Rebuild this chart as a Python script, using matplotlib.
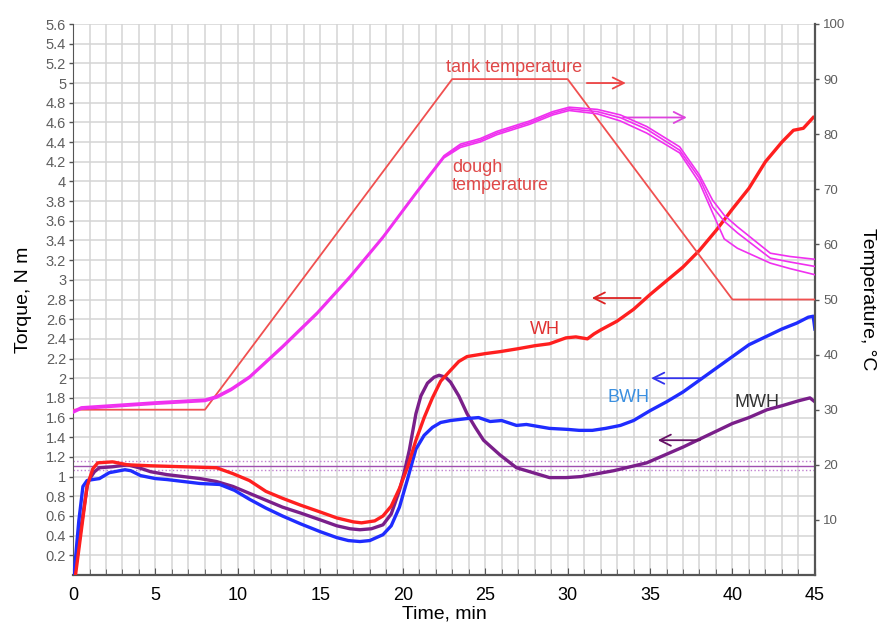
import numpy as np
import matplotlib
matplotlib.use("Agg")
import matplotlib.pyplot as plt
from matplotlib.ticker import MultipleLocator

plt.rcParams["font.family"] = ["Liberation Sans", "DejaVu Sans"]

# ---------------------------------------------------------------
# Data
# ---------------------------------------------------------------
# tank temperature, deg C (right axis)
tank_t = [0, 8, 23, 30, 40, 45]
tank_temp = [30, 30, 90, 90, 50, 50]

# dough temperature, three probes, deg C (right axis)
dough_t = [0, 0.5, 2, 5, 8, 8.7, 9.6, 10.7, 12.7, 14.8, 16.8, 18.8, 20.8, 22.5, 23.5,
           24.7, 25.7, 27.7, 29.1, 30.1, 31.8, 33.2, 34.8, 36.8, 38.0, 38.8,
           39.5, 40.3, 42.3, 43.5, 45]
dough_a = [29.8, 30.5, 30.8, 31.4, 31.9, 32.5, 33.9, 36.1, 41.6, 47.7, 54.3, 61.5, 69.5,
           76.1, 78.2, 79.2, 80.5, 82.4, 84.1, 84.9, 84.5, 83.5, 81.4, 77.7, 72.6,
           68.0, 65.3, 63.2, 58.4, 57.8, 57.3]
dough_b = [29.6, 30.3, 30.6, 31.2, 31.7, 32.3, 33.7, 35.9, 41.4, 47.5, 54.1, 61.3, 69.3,
           75.9, 77.9, 78.9, 80.2, 82.1, 83.8, 84.6, 84.1, 83.0, 80.9, 77.1, 72.0,
           66.8, 64.2, 62.1, 57.5, 56.8, 56.0]
dough_c = [29.4, 30.1, 30.4, 31.0, 31.5, 32.1, 33.5, 35.7, 41.2, 47.3, 53.9, 61.1, 69.1,
           75.7, 77.6, 78.6, 79.9, 81.8, 83.5, 84.3, 83.7, 82.4, 80.2, 76.6, 71.2,
           65.7, 61.0, 59.3, 56.6, 55.6, 54.5]

# torque curves, N m (left axis)
wh_t = [0.15, 0.5, 0.85, 1.2, 1.5, 2.4, 3.3, 4.7, 6.7, 8.7, 9.7, 10.7, 11.7, 12.7,
        13.8, 15, 16, 17, 17.5, 18.3, 18.8, 19.3, 19.8, 20.3, 20.8, 21.3, 21.8,
        22.3, 22.9, 23.4, 23.9, 25, 25.9, 27, 28, 28.9, 29.9, 30.5, 31.2, 31.6,
        32, 33, 34, 35, 36, 37, 38, 39, 40, 41, 42, 43, 43.7, 44.3, 44.9]
wh = [0.0, 0.45, 0.9, 1.08, 1.14, 1.15, 1.12, 1.11, 1.10, 1.09, 1.03, 0.96, 0.85,
      0.78, 0.71, 0.64, 0.58, 0.54, 0.53, 0.55, 0.60, 0.70, 0.88, 1.10, 1.37, 1.60,
      1.80, 1.97, 2.08, 2.17, 2.22, 2.25, 2.27, 2.30, 2.33, 2.35, 2.41, 2.42, 2.40,
      2.45, 2.49, 2.58, 2.70, 2.85, 2.99, 3.13, 3.30, 3.50, 3.72, 3.93, 4.20, 4.40,
      4.52, 4.54, 4.65]

bwh_t = [0.06, 0.35, 0.6, 0.85, 1.2, 1.6, 2.2, 3.15, 3.5, 4.1, 5, 5.7, 6.7, 7.7, 8.9,
         9.8, 10.7, 11.7, 12.7, 13.8, 15, 16, 16.7, 17.4, 18, 18.8, 19.3, 19.8, 20.3,
         20.8, 21.3, 21.8, 22.3, 22.9, 23.9, 24.6, 25.3, 26, 26.9, 27.5, 28.9, 30,
         30.7, 31.5, 32.3, 33.2, 34, 35, 36, 37, 38, 39, 40, 41, 42, 43, 43.9, 44.6,
         44.9, 45]
bwh = [0.0, 0.55, 0.90, 0.96, 0.97, 0.98, 1.04, 1.07, 1.06, 1.01, 0.98, 0.97, 0.95,
       0.93, 0.92, 0.86, 0.77, 0.68, 0.60, 0.52, 0.44, 0.38, 0.35, 0.34, 0.35, 0.41,
       0.50, 0.69, 0.98, 1.28, 1.42, 1.50, 1.55, 1.57, 1.59, 1.60, 1.56, 1.57, 1.52,
       1.53, 1.49, 1.48, 1.47, 1.47, 1.49, 1.52, 1.57, 1.67, 1.76, 1.86, 1.98, 2.10,
       2.22, 2.34, 2.42, 2.50, 2.56, 2.62, 2.63, 2.50]

mwh_t = [0.1, 0.5, 0.9, 1.3, 1.6, 2.4, 3.3, 4.0, 4.7, 5.7, 6.7, 7.7, 8.7, 9.7, 10.7,
         11.7, 12.7, 13.8, 15, 16, 16.8, 17.4, 18.1, 18.8, 19.3, 19.8, 20.1, 20.4,
         20.8, 21.1, 21.5, 21.9, 22.2, 22.6, 22.9, 23.4, 23.9, 24.4, 24.9, 25.9, 26.9,
         27.9, 28.9, 29.9, 30.8, 31.8, 32.8, 33.8, 34.8, 35.9, 37, 38, 39, 40, 41,
         42.1, 43, 44, 44.7, 45]
mwh = [0.0, 0.50, 0.95, 1.05, 1.09, 1.10, 1.12, 1.09, 1.05, 1.02, 1.00, 0.98, 0.95,
       0.90, 0.83, 0.76, 0.69, 0.63, 0.56, 0.50, 0.47, 0.46, 0.47, 0.51, 0.62, 0.86,
       1.05, 1.27, 1.64, 1.82, 1.95, 2.01, 2.03, 2.01, 1.96, 1.82, 1.64, 1.50, 1.37,
       1.22, 1.09, 1.04, 0.99, 0.99, 1.00, 1.03, 1.06, 1.10, 1.14, 1.22, 1.30, 1.38,
       1.46, 1.54, 1.60, 1.68, 1.72, 1.77, 1.80, 1.76]

# reference band, N m
band_levels = [1.16, 1.11, 1.07]
band_styles = [":", "-", ":"]

# ---------------------------------------------------------------
# Figure
# ---------------------------------------------------------------
fig = plt.figure(figsize=(8.8, 6.25), dpi=100)
ax = fig.add_axes([0.083, 0.08, 0.843, 0.8816])
ax2 = ax.twinx()

ax.set_xlim(0, 45)
ax.set_ylim(0, 5.6)
ax2.set_ylim(0, 100)

ax.xaxis.set_major_locator(MultipleLocator(5))
ax.xaxis.set_minor_locator(MultipleLocator(1))

ax.grid(True, which="both", color="#d4d4d4", linewidth=1.1)
ax.set_axisbelow(True)

ytk = np.round(np.arange(0.2, 5.61, 0.2), 1)
ax.set_yticks(ytk)
ax.set_yticklabels([("%g" % v) for v in ytk], color="#5e5e5e", fontsize=10.5)
ax2.set_yticks(range(10, 101, 10))
ax2.set_yticklabels([str(v) for v in range(10, 101, 10)], color="#5e5e5e", fontsize=9.5)

ax.tick_params(axis="x", which="major", direction="in", length=5, labelsize=13,
               pad=9, color="#555555")
ax.tick_params(axis="x", which="minor", direction="in", length=4, color="#555555")
ax.tick_params(axis="y", direction="out", length=3, width=1, color="#555555", pad=2)
ax2.tick_params(axis="y", direction="out", length=3, width=1, color="#555555", pad=3)

ax.spines["top"].set_visible(False)
ax2.spines["top"].set_visible(False)
ax.spines["left"].set_color("#555555")
ax.spines["bottom"].set_color("#555555")
ax2.spines["right"].set_color("#555555")
ax2.spines["right"].set_linewidth(1.6)
ax.spines["bottom"].set_linewidth(1.6)
ax.spines["right"].set_visible(False)
ax2.spines["left"].set_visible(False)
ax2.spines["bottom"].set_visible(False)

# reference band
for lvl, ls in zip(band_levels, band_styles):
    ax.axhline(lvl, color="#a050b0" if ls == "-" else "#c080d0",
               linestyle=ls, linewidth=1.0, zorder=2)

# temperatures
ax2.plot(tank_t, tank_temp, color="#f05050", linewidth=1.3, zorder=3)
for d in (dough_a, dough_b, dough_c):
    ax2.plot(dough_t, d, color="#f030f0", linewidth=1.2, zorder=3)

# torque
ax.plot(mwh_t, mwh, color="#7a1f8a", linewidth=2.4, zorder=4)
ax.plot(bwh_t, bwh, color="#1f2cff", linewidth=2.4, zorder=5)
ax.plot(wh_t, wh, color="#ff1f1f", linewidth=2.4, zorder=6)

# labels
ax.text(22.6, 5.16, "tank temperature", color="#e04848", fontsize=13, va="center")
ax.text(23.0, 4.05, "dough\ntemperature", color="#e04848", fontsize=13,
        va="center", linespacing=1.05)
ax.text(28.6, 2.5, "WH", color="#e03030", fontsize=13, ha="center", va="center")
ax.text(33.7, 1.8, "BWH", color="#3a8fe0", fontsize=13, ha="center", va="center")
ax.text(41.5, 1.75, "MWH", color="#333333", fontsize=13, ha="center", va="center")

arrows = [((31.0, 5.0), (33.7, 5.0), "#ee4444"),
          ((33.2, 4.65), (37.4, 4.65), "#dd44dd"),
          ((34.6, 2.815), (31.3, 2.815), "#dd2222"),
          ((38.3, 2.0), (34.9, 2.0), "#3333ee"),
          ((38.2, 1.37), (35.3, 1.37), "#661166")]
for (x0, y0), (x1, y1), c in arrows:
    ax.annotate("", xy=(x1, y1), xytext=(x0, y0), zorder=7,
                arrowprops=dict(arrowstyle="->,head_length=0.8,head_width=0.4",
                                color=c, linewidth=1.3))

ax.set_xlabel("Time, min", fontsize=14, labelpad=1)
ax.set_ylabel("Torque, N m", fontsize=14, labelpad=10)
ax2.set_ylabel("Temperature, °C", fontsize=14, rotation=270, labelpad=22)

fig.savefig("out.png", dpi=100)
